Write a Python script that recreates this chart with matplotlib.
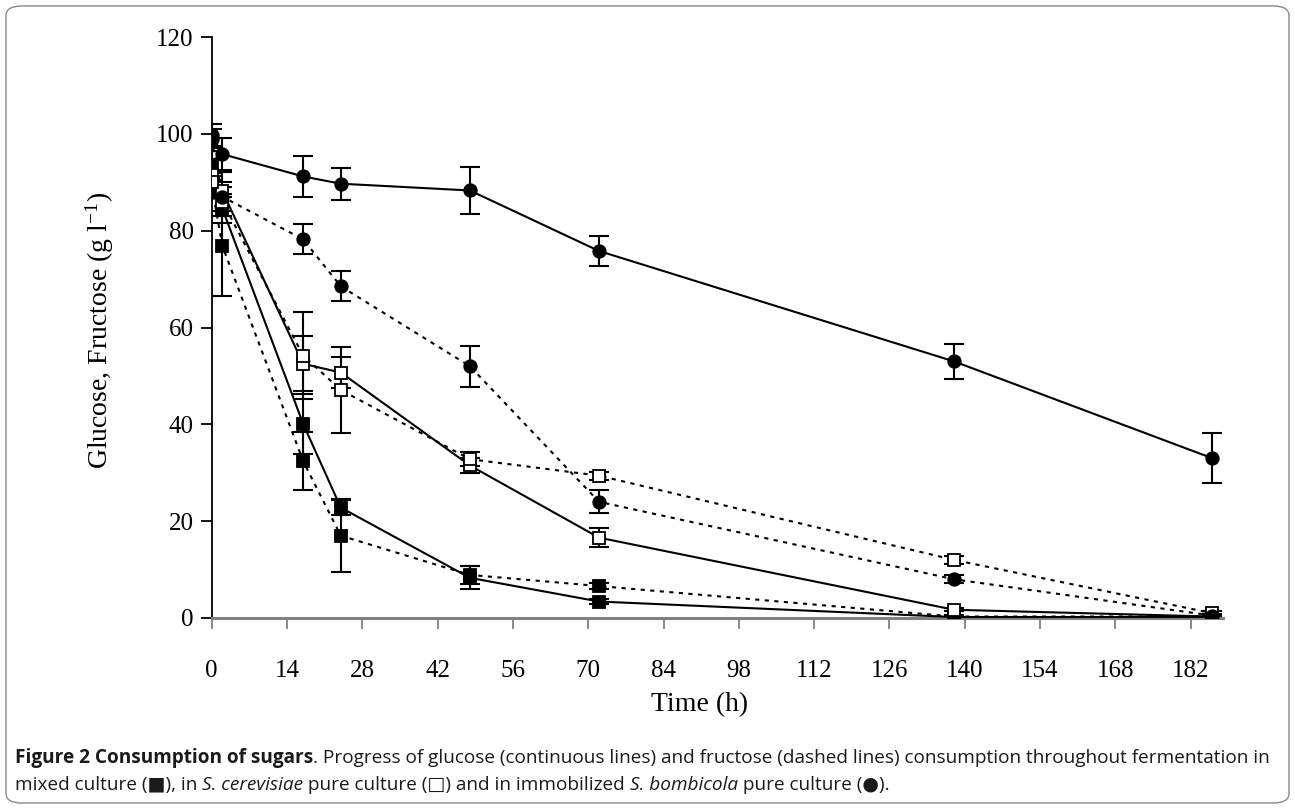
import matplotlib
matplotlib.use("Agg")
import matplotlib.pyplot as plt
from matplotlib.patches import FancyBboxPatch

# ---- data ----
time_h = [0, 2, 17, 24, 48, 72, 138, 186]

mixed_glucose = [93.5, 84.5, 40.1, 22.8, 8.3, 3.4, 0.2, 0.2]
mixed_glucose_err = [3.0, 3.0, 6.2, 1.6, 2.4, 0.5, 0.3, 0.3]
mixed_fructose = [89.2, 76.8, 32.4, 17.0, 8.9, 6.6, 0.3, 0.3]
mixed_fructose_err = [2.0, 10.2, 6.0, 7.6, 1.8, 0.6, 0.3, 0.3]

scer_glucose = [91.5, 88.1, 52.5, 50.7, 31.5, 16.6, 1.7, 0.3]
scer_glucose_err = [3.0, 4.0, 5.7, 3.2, 1.5, 2.0, 0.3, 0.3]
scer_fructose = [90.0, 86.0, 54.2, 47.1, 32.8, 29.4, 12.0, 1.0]
scer_fructose_err = [2.0, 3.0, 9.0, 8.8, 1.5, 0.8, 0.8, 0.5]

bomb_glucose = [99.8, 95.8, 91.2, 89.7, 88.3, 75.8, 53.0, 33.0]
bomb_glucose_err = [2.3, 3.3, 4.3, 3.3, 4.9, 3.1, 3.6, 5.2]
bomb_fructose = [99.0, 87.0, 78.2, 68.5, 52.0, 24.0, 8.0, 0.5]
bomb_fructose_err = [2.0, 3.0, 3.1, 3.1, 4.2, 2.4, 0.8, 0.3]

x_ticks = list(range(0, 183, 14))
y_ticks = [0, 20, 40, 60, 80, 100, 120]

W, H = 1295, 809
fig = plt.figure(figsize=(W / 100, H / 100), dpi=100)

border = FancyBboxPatch((6 / W, 6 / H), (W - 12) / W, (H - 12) / H,
                        boxstyle="round,pad=0,rounding_size=0.012",
                        transform=fig.transFigure, fill=False,
                        edgecolor="#8a8a8a", linewidth=1.0)
fig.patches.append(border)

left, right, bottom, top = 211.7 / W, 1223 / W, 1 - 618 / H, 1 - 37 / H
ax = fig.add_axes([left, bottom, right - left, top - bottom])
ax.set_xlim(0, 188)
ax.set_ylim(0, 120)

serif = "Liberation Serif"
plt.rcParams["mathtext.fontset"] = "stix"

dash = (0, (2.0, 2.6))
series = [
    (mixed_glucose, mixed_glucose_err, "s", "black", "-"),
    (mixed_fructose, mixed_fructose_err, "s", "black", dash),
    (scer_glucose, scer_glucose_err, "s", "white", "-"),
    (scer_fructose, scer_fructose_err, "s", "white", dash),
    (bomb_glucose, bomb_glucose_err, "o", "black", "-"),
    (bomb_fructose, bomb_fructose_err, "o", "black", dash),
]
for vals, err, mk, face, ls in series:
    ax.errorbar(time_h, vals, yerr=err, fmt="none", ecolor="black",
                elinewidth=1.5, capsize=7.5, capthick=1.5, zorder=2)
    ax.plot(time_h, vals, linestyle=ls, color="black", linewidth=1.5,
            zorder=3)
    ax.plot(time_h, vals, linestyle="none", marker=mk, markersize=9,
            markerfacecolor=face, markeredgecolor="black",
            markeredgewidth=1.3, zorder=4)

for s in ["top", "right"]:
    ax.spines[s].set_visible(False)
ax.spines["left"].set_color("black")
ax.spines["left"].set_linewidth(1.3)
ax.spines["bottom"].set_color("#808080")
ax.spines["bottom"].set_linewidth(2.2)

ax.set_xticks(x_ticks)
ax.set_xticklabels([str(v) for v in x_ticks], fontfamily=serif, fontsize=18)
ax.set_yticks(y_ticks)
ax.set_yticklabels([str(v) for v in y_ticks], fontfamily=serif, fontsize=18)
ax.tick_params(axis="x", direction="out", length=8, width=1.3,
               color="#808080", pad=22)
ax.tick_params(axis="y", direction="out", length=8, width=1.3,
               color="black", pad=5)

fig.text(700 / W, 1 - 705 / H, "Time (h)", ha="center", va="center",
         fontfamily=serif, fontsize=20)
fig.text(100 / W, 1 - 330 / H, r"Glucose, Fructose (g l$^{\mathregular{-1}}$)",
         ha="center", va="center", rotation=90, fontfamily=serif, fontsize=20)

cap_size = 13.7
line1 = [("Figure 2 Consumption of sugars", "bold", "normal"),
         (". Progress of glucose (continuous lines) and fructose (dashed lines) consumption throughout fermentation in",
          "normal", "normal")]
line2 = [("mixed culture (\u25a0), in ", "normal", "normal"),
         ("S. cerevisiae", "normal", "italic"),
         (" pure culture (\u25a1) and in immobilized ", "normal", "normal"),
         ("S. bombicola", "normal", "italic"),
         (" pure culture (\u25cf).", "normal", "normal")]


def draw_runs(runs, x0, y0, size):
    fig.canvas.draw()
    r = fig.canvas.get_renderer()
    x = x0
    for txt, weight, style in runs:
        t = fig.text(x / W, 1 - y0 / H, txt, ha="left", va="baseline",
                     fontfamily=["Open Sans", "DejaVu Sans"], fontsize=size,
                     fontweight=weight, fontstyle=style, color="#1a1a1a")
        bb = t.get_window_extent(renderer=r)
        x = bb.x1


draw_runs(line1, 15, 763, cap_size)
draw_runs(line2, 15, 790, cap_size)

fig.savefig("out.png", dpi=100)
